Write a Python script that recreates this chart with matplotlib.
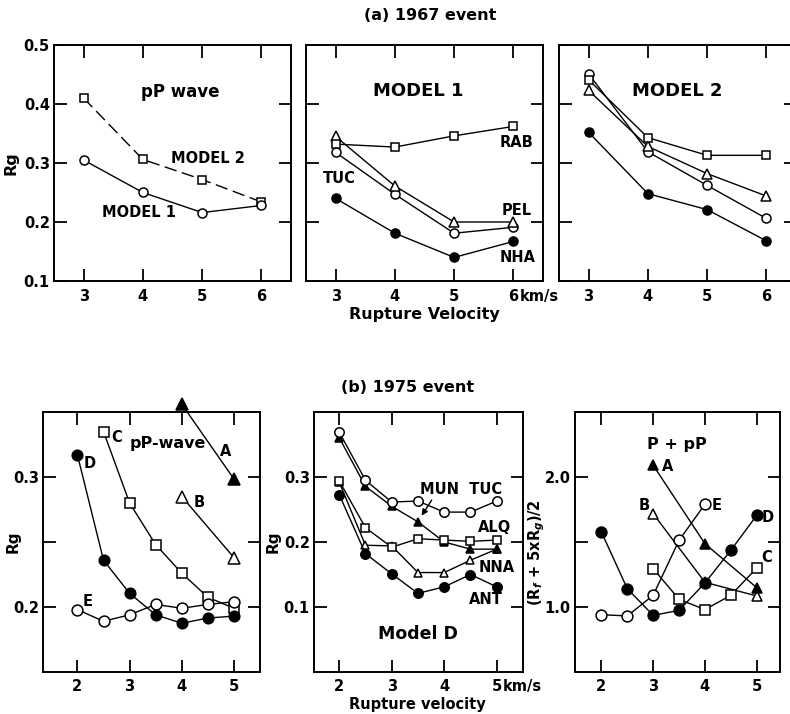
import numpy as np
import matplotlib
matplotlib.use('Agg')
import matplotlib.pyplot as plt

plt.rcParams['font.family'] = ['DejaVu Sans']
plt.rcParams['font.weight'] = 'bold'

#=====================================================================
#                 (a) 1967 event : Rg vs rupture velocity
#=====================================================================
v_top = [3, 4, 5, 6]

pp_model1 = [0.305, 0.250, 0.216, 0.228]
pp_model2 = [0.410, 0.306, 0.272, 0.234]

m1_rab = [0.332, 0.327, 0.346, 0.362]
m1_tri = [0.345, 0.261, 0.200, 0.200]
m1_circ = [0.318, 0.247, 0.181, 0.191]
m1_nha = [0.240, 0.181, 0.140, 0.167]

m2_circ = [0.451, 0.319, 0.262, 0.206]
m2_sq = [0.441, 0.343, 0.313, 0.313]
m2_tri = [0.423, 0.328, 0.282, 0.244]
m2_dot = [0.352, 0.248, 0.221, 0.168]

#=====================================================================
#                 (b) 1975 event
#=====================================================================
v_bot = [2, 2.5, 3, 3.5, 4, 4.5, 5]

# pP-wave, models A-E
pw_a_v = [4, 5];            pw_a = [0.356, 0.2985]
pw_b_v = [4, 5];            pw_b = [0.285, 0.238]
pw_c_v = [2.5, 3, 3.5, 4, 4.5, 5]
pw_c = [0.335, 0.280, 0.248, 0.226, 0.2075, 0.199]
pw_d = [0.317, 0.236, 0.2105, 0.194, 0.1875, 0.1915, 0.193]
pw_e = [0.198, 0.189, 0.194, 0.202, 0.199, 0.202, 0.204]

# Model D stations
md_tuc = [0.369, 0.295, 0.2615, 0.263, 0.246, 0.246, 0.263]
md_mun = [0.3605, 0.2856, 0.255, 0.231, 0.200, 0.189, 0.189]
md_alq = [0.294, 0.222, 0.192, 0.205, 0.203, 0.201, 0.203]
md_nna = [0.292, 0.195, 0.194, 0.153, 0.153, 0.172, 0.189]
md_ant = [0.273, 0.182, 0.151, 0.121, 0.131, 0.150, 0.131]

# P + pP, (Rf + 5xRg)/2
cp_a_v = [3, 4, 5];          cp_a = [2.09, 1.487, 1.149]
cp_b_v = [3, 4, 5];          cp_b = [1.718, 1.19, 1.085]
cp_c_v = [3, 3.5, 4, 4.5, 5]; cp_c = [1.295, 1.059, 0.98, 1.09, 1.30]
cp_d = [1.577, 1.141, 0.936, 0.974, 1.185, 1.436, 1.705]
cp_e_v = [2, 2.5, 3, 3.5, 4]; cp_e = [0.941, 0.931, 1.09, 1.513, 1.79]

LW = 1.0
def line(ax, x, y, mk, filled, ms, ls='-', **kw):
    fc = 'black' if filled else 'white'
    ax.plot(x, y, ls, color='black', lw=LW, marker=mk, ms=ms, mfc=fc,
            mec='black', mew=1.1, clip_on=False, **kw)

def frame(ax):
    for s in ax.spines.values():
        s.set_linewidth(1.4)
    ax.tick_params(which='both', direction='in', length=9, width=1.3,
                   top=True, right=True, labelsize=10.5)
    ax.tick_params(axis='x', pad=6)
    ax.tick_params(axis='y', pad=3)

fig = plt.figure(figsize=(7.9, 7.14), dpi=100)

#--------------------------- top row --------------------------------
top_b, top_h = 1 - 281/714, 236/714
ax1 = fig.add_axes([54/790, top_b, 237/790, top_h])
ax2 = fig.add_axes([306/790, top_b, 237/790, top_h])
ax3 = fig.add_axes([559/790, top_b, 237/790, top_h])

for ax in (ax1, ax2, ax3):
    frame(ax)
    ax.set_xlim(2.5, 6.5)
    ax.set_ylim(0.1, 0.5)
    ax.set_xticks(v_top)
    ax.set_yticks([0.1, 0.2, 0.3, 0.4, 0.5])
ax1.set_yticklabels(['0.1', '0.2', '0.3', '0.4', '0.5'])
ax2.set_yticklabels([])
ax3.set_yticklabels([])

line(ax1, v_top, pp_model2, 's', False, 5.5, ls='--', dashes=(9, 4))
line(ax1, v_top, pp_model1, 'o', False, 6.5)
ax1.text(4.63, 0.42, 'pP wave', fontsize=12, ha='center', va='center')
ax1.text(5.1, 0.307, 'MODEL 2', fontsize=10.5, ha='center', va='center')
ax1.text(3.93, 0.216, 'MODEL 1', fontsize=10.5, ha='center', va='center')

line(ax2, v_top, m1_nha, 'o', True, 6.5)
line(ax2, v_top, m1_circ, 'o', False, 6.5)
line(ax2, v_top, m1_tri, '^', False, 6.5)
line(ax2, v_top, m1_rab, 's', False, 5.5)
ax2.text(4.39, 0.422, 'MODEL 1', fontsize=13, ha='center', va='center')
ax2.text(6.05, 0.334, 'RAB', fontsize=10.5, ha='center', va='center')
ax2.text(3.07, 0.273, 'TUC', fontsize=10.5, ha='center', va='center')
ax2.text(6.05, 0.220, 'PEL', fontsize=10.5, ha='center', va='center')
ax2.text(6.08, 0.139, 'NHA', fontsize=10.5, ha='center', va='center')
ax2.annotate('km/s', xy=(6, 0), xycoords=('data', 'axes fraction'),
             xytext=(4.5, -6), textcoords='offset points',
             fontsize=10.5, ha='left', va='top')

line(ax3, v_top, m2_dot, 'o', True, 6.5)
line(ax3, v_top, m2_circ, 'o', False, 6.5)
line(ax3, v_top, m2_tri, '^', False, 6.5)
line(ax3, v_top, m2_sq, 's', False, 5.5)
ax3.text(4.49, 0.422, 'MODEL 2', fontsize=13, ha='center', va='center')

fig.text(430/790, 1 - 15/714, '(a) 1967 event', fontsize=11.5,
         ha='center', va='center')
fig.text(424/790, 1 - 315/714, 'Rupture Velocity', fontsize=11.5,
         ha='center', va='center')
fig.text(11/790, 1 - 163/714, 'Rg', fontsize=11.5, rotation=90,
         ha='center', va='center')

#-------------------------- bottom row ------------------------------
bot_b, bot_h = 1 - 672/714, 260/714
ax4 = fig.add_axes([43/790, bot_b, 217/790, bot_h])
ax5 = fig.add_axes([314/790, bot_b, 209/790, bot_h])
ax6 = fig.add_axes([575/790, bot_b, 205/790, bot_h])

for ax in (ax4, ax5, ax6):
    frame(ax)
    ax.set_xticks([2, 3, 4, 5])
    ax.tick_params(axis='x', pad=5)

ax4.set_xlim(1.34, 5.5)
ax4.set_ylim(0.15, 0.35)
ax4.set_yticks([0.2, 0.25, 0.3])
ax4.set_yticklabels(['0.2', '', '0.3'])

ax5.set_xlim(1.52, 5.5)
ax5.set_ylim(0.0, 0.4)
ax5.set_yticks([0.1, 0.2, 0.3])
ax5.set_yticklabels(['0.1', '0.2', '0.3'])

ax6.set_xlim(1.49, 5.45)
ax6.set_ylim(0.5, 2.5)
ax6.set_yticks([1.0, 1.5, 2.0])
ax6.set_yticklabels(['1.0', '', '2.0'])

line(ax4, pw_c_v, pw_c, 's', False, 7.0)
line(ax4, v_bot, pw_e, 'o', False, 7.8)
line(ax4, v_bot, pw_d, 'o', True, 7.6)
line(ax4, pw_b_v, pw_b, '^', False, 8.0)
line(ax4, pw_a_v, pw_a, '^', True, 8.0)
ax4.text(2.23, 0.310, 'D', fontsize=10.5, ha='center', va='center')
ax4.text(2.75, 0.330, 'C', fontsize=10.5, ha='center', va='center')
ax4.text(3.74, 0.326, 'pP-wave', fontsize=11.5, ha='center', va='center')
ax4.text(4.85, 0.320, 'A', fontsize=10.5, ha='center', va='center')
ax4.text(4.34, 0.280, 'B', fontsize=10.5, ha='center', va='center')
ax4.text(2.19, 0.204, 'E', fontsize=10.5, ha='center', va='center')

line(ax5, v_bot, md_nna, '^', False, 6.0)
line(ax5, v_bot, md_mun, '^', True, 6.0)
line(ax5, v_bot, md_alq, 's', False, 5.5)
line(ax5, v_bot, md_tuc, 'o', False, 6.8)
line(ax5, v_bot, md_ant, 'o', True, 6.8)
ax5.text(4.33, 0.280, 'MUN  TUC', fontsize=10.5, ha='center', va='center')
ax5.annotate('', xy=(3.54, 0.237), xytext=(3.79, 0.268),
             arrowprops=dict(arrowstyle='-|>', color='black', lw=1.0,
                             mutation_scale=9))
ax5.text(4.96, 0.222, 'ALQ', fontsize=10.5, ha='center', va='center')
ax5.text(4.99, 0.160, 'NNA', fontsize=10.5, ha='center', va='center')
ax5.text(4.80, 0.112, 'ANT', fontsize=10.5, ha='center', va='center')
ax5.text(3.50, 0.059, 'Model D', fontsize=12.5, ha='center', va='center')
ax5.annotate('km/s', xy=(5, 0), xycoords=('data', 'axes fraction'),
             xytext=(4.5, -5), textcoords='offset points',
             fontsize=10.5, ha='left', va='top')

line(ax6, cp_b_v, cp_b, '^', False, 7.0)
line(ax6, cp_c_v, cp_c, 's', False, 6.5)
line(ax6, cp_e_v, cp_e, 'o', False, 7.8)
line(ax6, v_bot, cp_d, 'o', True, 7.8)
line(ax6, cp_a_v, cp_a, '^', True, 7.0)
ax6.text(3.46, 2.25, 'P + pP', fontsize=11.5, ha='center', va='center')
ax6.text(3.27, 2.08, 'A', fontsize=10.5, ha='center', va='center')
ax6.text(2.82, 1.78, 'B', fontsize=10.5, ha='center', va='center')
ax6.text(4.22, 1.78, 'E', fontsize=10.5, ha='center', va='center')
ax6.text(5.22, 1.69, 'D', fontsize=10.5, ha='center', va='center')
ax6.text(5.19, 1.38, 'C', fontsize=10.5, ha='center', va='center')

fig.text(408/790, 1 - 387/714, '(b) 1975 event', fontsize=11.5,
         ha='center', va='center')
fig.text(417/790, 1 - 704/714, 'Rupture velocity', fontsize=10.5,
         ha='center', va='center')
fig.text(13.5/790, 1 - 542/714, 'Rg', fontsize=11, rotation=90,
         ha='center', va='center')
fig.text(273/790, 1 - 542/714, 'Rg', fontsize=11, rotation=90,
         ha='center', va='center')
fig.text(537/790, 1 - 553/714, r'(R$_f$ + 5xR$_g$)/2', fontsize=10.5,
         rotation=90, ha='center', va='center')

fig.savefig('out.png', dpi=100)
